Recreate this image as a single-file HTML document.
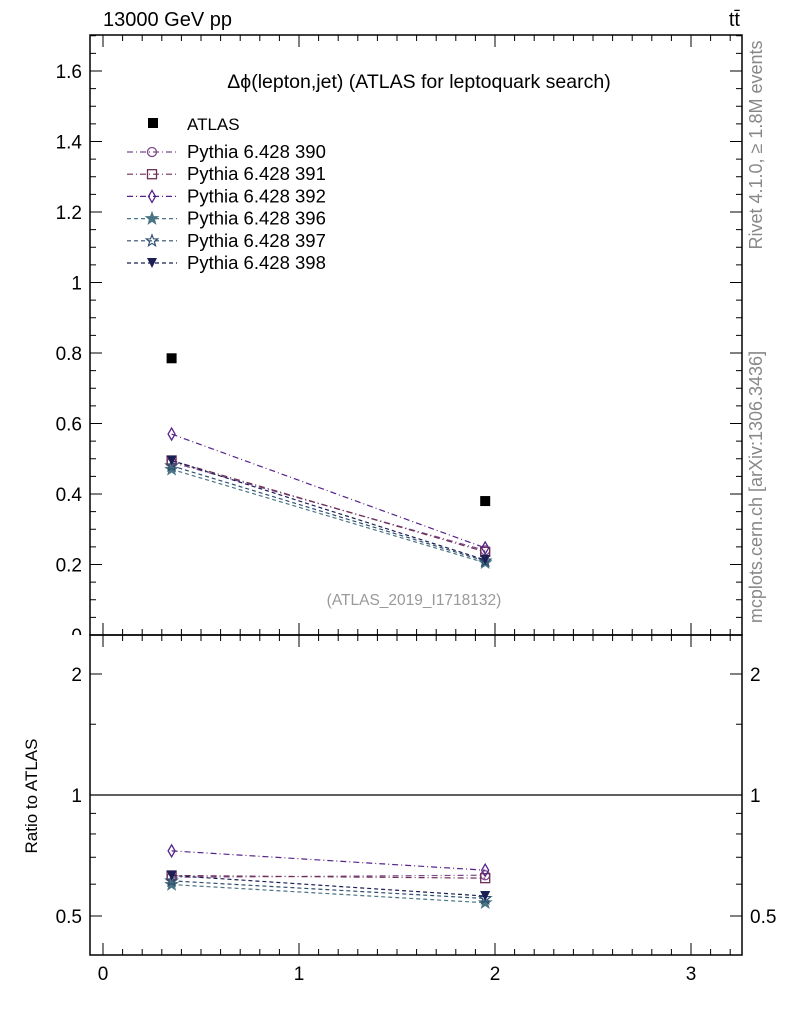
<!DOCTYPE html>
<html><head><meta charset="utf-8"><style>
body{margin:0;background:#fff;}
svg{font-family:"Liberation Sans",sans-serif;}
</style></head><body>
<svg id="c" width="786" height="1024" xmlns="http://www.w3.org/2000/svg"></svg>
<script>
const xs=[0.35,1.95];
const atlas=[0.785,0.38];
const names=["Pythia 6.428 390","Pythia 6.428 391","Pythia 6.428 392","Pythia 6.428 396","Pythia 6.428 397","Pythia 6.428 398"];
const s390=[0.49,0.24];
const s391=[0.495,0.236];
const s392=[0.57,0.247];
const s396=[0.47,0.205];
const s397=[0.48,0.21];
const s398=[0.495,0.213];
const yTicks=[0,0.2,0.4,0.6,0.8,1,1.2,1.4,1.6];
const yLabels=["0","0.2","0.4","0.6","0.8","1","1.2","1.4","1.6"];
const xTicks=[0,1,2,3];
const rTicks=[0.5,1,2];
const series=[s390,s391,s392,s396,s397,s398];
const colors=["#7a4a8a","#6e2f55","#55238a","#4a7585","#2f4f70","#1b1f55"];
const dashes=["6,3,1,3","6,3,1,3","6,3,1,3","4,3","4,3","4,3"];
const markers=["circle","square","diamond","star","staro","tri"];

const svg=document.getElementById('c');
const NS="http://www.w3.org/2000/svg";
function el(t,a,p){const e=document.createElementNS(NS,t);for(const k in a)e.setAttribute(k,a[k]);(p||svg).appendChild(e);return e;}
const L=90,R=742,T=35,M=635,B=955;
const X=v=>103+v*196;
const Y=v=>635-v*352.5;
const RY=v=>795-Math.log2(v)*121;

const defs=el('defs',{});
const cp=el('clipPath',{id:'topclip'},defs);
el('rect',{x:0,y:0,width:786,height:M},cp);

let f=el('rect',{x:L,y:T,width:R-L,height:M-T,fill:'none',stroke:'#000','stroke-width':1.5});

f=el('rect',{x:L,y:M,width:R-L,height:B-M,fill:'none',stroke:'#000','stroke-width':1.5});


for(let v=0;v<=1.7001;v+=0.05){const y=Y(v);if(y<T)continue;const maj=Math.abs(v/0.2-Math.round(v/0.2))<1e-6;const len=maj?12:6;
el('line',{x1:L,x2:L+len,y1:y,y2:y,stroke:'#000'});el('line',{x1:R,x2:R-len,y1:y,y2:y,stroke:'#000'});}
const yl=el('g',{'clip-path':'url(#topclip)'});
yTicks.forEach((v,i)=>{const t=el('text',{x:L-8,y:Y(v)+7,'text-anchor':'end','font-size':19},yl);t.textContent=yLabels[i];
});

for(let v=0;v<=3.25;v+=0.1){const x=X(v);const maj=Math.abs(v-Math.round(v))<1e-6;const len=maj?12:6;
[[T,1],[M,-1],[M,1],[B,-1]].forEach(([y0,d])=>el('line',{x1:x,x2:x,y1:y0,y2:y0+d*len,stroke:'#000'}));}
xTicks.forEach(v=>{const t=el('text',{x:X(v),y:980,'text-anchor':'middle','font-size':19});t.textContent=v;
});

[0.5,0.6,0.7,0.8,0.9,1,1.5,2].forEach(v=>{const y=RY(v);const maj=rTicks.includes(v);const len=maj?12:6;
el('line',{x1:L,x2:L+len,y1:y,y2:y,stroke:'#000'});el('line',{x1:R,x2:R-len,y1:y,y2:y,stroke:'#000'});});
rTicks.forEach(v=>{[[L-8,'end'],[R+8,'start']].forEach(([x,a])=>{const t=el('text',{x:x,y:RY(v)+7,'text-anchor':a,'font-size':19});t.textContent=v;
});});
el('line',{x1:L,x2:R,y1:RY(1),y2:RY(1),stroke:'#000','stroke-width':1.2});

function txt(s,a,name,fs,col){const t=el('text',Object.assign({'font-size':fs||17,fill:col||'#000'},a));t.textContent=s;return t;}
txt("13000 GeV pp",{x:103,y:26},'energy-label',20);
txt("tt̄",{x:740,y:26,'text-anchor':'end'},'process-label',20);
txt("Δϕ(lepton,jet) (ATLAS for leptoquark search)",{x:419,y:88,'text-anchor':'middle'},'plot-title',19.5);
txt("(ATLAS_2019_I1718132)",{x:414,y:605,'text-anchor':'middle'},'analysis-id',15.5,'#999');
txt("Ratio to ATLAS",{x:37,y:796,'text-anchor':'middle',transform:'rotate(-90 37 796)'},'ratio-y-title',17);
txt("Rivet 4.1.0, ≥ 1.8M events",{x:762,y:145,'text-anchor':'middle',transform:'rotate(-90 762 145)'},'rivet-label',18,'#888');
txt("mcplots.cern.ch [arXiv:1306.3436]",{x:762,y:487,'text-anchor':'middle',transform:'rotate(-90 762 487)'},'mcplots-label',18,'#888');

function marker(kind,x,y,c,g){
 const s=4.5;
 if(kind==='circle')el('circle',{cx:x,cy:y,r:s,fill:'none',stroke:c,'stroke-width':1.3},g);
 else if(kind==='square')el('rect',{x:x-s,y:y-s,width:2*s,height:2*s,fill:'none',stroke:c,'stroke-width':1.3},g);
 else if(kind==='diamond')el('polygon',{points:`${x},${y-6} ${x+3.5},${y} ${x},${y+6} ${x-3.5},${y}`,fill:'none',stroke:c,'stroke-width':1.3},g);
 else if(kind==='star'||kind==='staro'){let p=[];for(let i=0;i<10;i++){const r=i%2?2.5:6;const a=-Math.PI/2+i*Math.PI/5;p.push((x+r*Math.cos(a)).toFixed(1)+','+(y+r*Math.sin(a)).toFixed(1));}
  el('polygon',{points:p.join(' '),fill:kind==='star'?c:'none',stroke:c,'stroke-width':1.2},g);}
 else if(kind==='tri')el('polygon',{points:`${x-5},${y-5} ${x+5},${y-5} ${x},${y+5}`,fill:c},g);
}

series.forEach((s,i)=>{
 const g=el('g',{});
 el('polyline',{points:xs.map((x,j)=>X(x)+','+Y(s[j])).join(' '),fill:'none',stroke:colors[i],'stroke-width':1.2,'stroke-dasharray':dashes[i]},g);
 el('polyline',{points:xs.map((x,j)=>X(x)+','+RY(s[j]/atlas[j])).join(' '),fill:'none',stroke:colors[i],'stroke-width':1.2,'stroke-dasharray':dashes[i]},g);
 xs.forEach((x,j)=>{marker(markers[i],X(x),Y(s[j]),colors[i],g);marker(markers[i],X(x),RY(s[j]/atlas[j]),colors[i],g);});
});
xs.forEach((x,j)=>{const r=el('rect',{x:X(x)-5,y:Y(atlas[j])-5,width:10,height:10,fill:'#000'});
});

const lg=el('g',{});
el('rect',{x:148,y:118,width:10,height:10,fill:'#000'},lg);
let lt=el('text',{x:187,y:130,'font-size':17},lg);lt.textContent="ATLAS";
names.forEach((n,i)=>{const y=152+i*22.2;
 const e=el('g',{},lg);
 el('line',{x1:127,x2:177,y1:y,y2:y,stroke:colors[i],'stroke-width':1.2,'stroke-dasharray':dashes[i]},e);
 marker(markers[i],152,y,colors[i],e);
 const tt=el('text',{x:187,y:y+6,'font-size':18.5},e);tt.textContent=n;});
</script>
</body></html>
